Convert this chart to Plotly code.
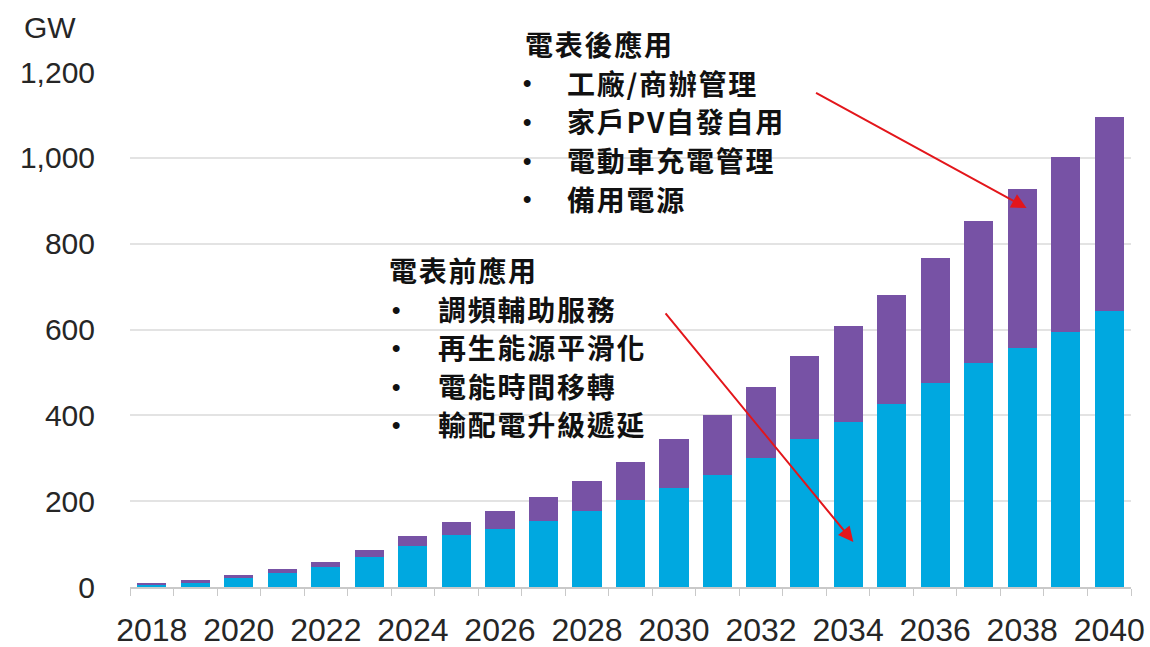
import plotly.graph_objects as go

# Energy storage capacity outlook (GW), split by application type
years = list(range(2018, 2041))
front_of_meter = [6, 10, 21, 32, 46, 69, 96, 121, 134, 154, 177, 203,
                  231, 261, 300, 344, 385, 426, 475, 523, 556, 595, 644]
behind_meter = [4, 7, 8, 9, 13, 17, 22, 30, 42, 55, 71, 88,
                114, 140, 167, 194, 224, 255, 291, 330, 371, 408, 450]

y_ticks = [0, 200, 400, 600, 800, 1000, 1200]
y_tick_text = ["0", "200", "400", "600", "800", "1,000", "1,200"]
x_ticks = list(range(2018, 2041, 2))

behind_title = "電表後應用"
behind_items = ["工廠/商辦管理", "家戶PV自發自用", "電動車充電管理", "備用電源"]
front_title = "電表前應用"
front_items = ["調頻輔助服務", "再生能源平滑化", "電能時間移轉", "輸配電升級遞延"]

CYAN = "#00A8E0"
PURPLE = "#7752A5"

W, H = 1150, 647
L, R, T, B = 129.5, 18.8, 72, 60
PW, PH = W - L - R, H - T - B


def px(xp):
    return (xp - L) / PW


def py(yp):
    return (H - B - yp) / PH


def spaced(s):
    # loosen the CJK tracking with hair spaces between glyphs
    return "\u200a".join(s)


fig = go.Figure()
fig.add_bar(x=years, y=front_of_meter, name=front_title, marker_color=CYAN,
            marker_line_width=0)
fig.add_bar(x=years, y=behind_meter, name=behind_title, marker_color=PURPLE,
            marker_line_width=0)

tick_font = dict(family="Liberation Sans, Arial, sans-serif", size=32, color="#262626")
cjk_font = dict(family="Noto Sans CJK TC, sans-serif", size=28, color="#111111")

fig.update_layout(
    width=W, height=H,
    margin=dict(l=L, r=R, t=T, b=B, pad=0, autoexpand=False),
    barmode="stack",
    bargap=0.33,
    showlegend=False,
    plot_bgcolor="white",
    paper_bgcolor="white",
    xaxis=dict(
        range=[2017.5, 2040.5],
        tickvals=x_ticks,
        ticks="",
        ticklen=0,
        tickfont=tick_font,
        ticklabelstandoff=14,
        automargin=False,
        showgrid=False,
        zeroline=False,
        showline=True,
        linecolor="#c9c9c9",
        linewidth=1.5,
        minor=dict(tick0=2017.5, dtick=1, ticks="outside", ticklen=7,
                   tickcolor="#c9c9c9", tickwidth=1.2, showgrid=False),
    ),
    yaxis=dict(
        range=[0, 1200],
        tickvals=y_ticks,
        ticktext=y_tick_text,
        tickfont=dict(family="Liberation Sans, Arial, sans-serif", size=30, color="#262626"),
        ticks="",
        ticklabelstandoff=34,
        automargin=False,
        showgrid=True,
        gridcolor="#e3e3e3",
        gridwidth=1.5,
        zeroline=False,
        showline=False,
    ),
)

ann = []
# unit label
ann.append(dict(x=px(21), y=py(27), xref="paper", yref="paper", text="GW",
                showarrow=False, xanchor="left", yanchor="middle",
                font=dict(family="Liberation Sans, Arial, sans-serif", size=30, color="#262626")))


def text_block(title, items, title_xy, bullet_x, text_x, rows):
    out = [dict(x=px(title_xy[0]), y=py(title_xy[1]), xref="paper", yref="paper",
                text="<b>" + spaced(title) + "</b>", showarrow=False, xanchor="left",
                yanchor="middle", font=cjk_font)]
    for item, ry in zip(items, rows):
        out.append(dict(x=px(bullet_x), y=py(ry), xref="paper", yref="paper",
                        text="<b>•</b>", showarrow=False, xanchor="center",
                        yanchor="middle", font=dict(family="Liberation Sans", size=24,
                                                     color="#111111")))
        out.append(dict(x=px(text_x), y=py(ry), xref="paper", yref="paper",
                        text="<b>" + spaced(item) + "</b>", showarrow=False, xanchor="left",
                        yanchor="middle", font=cjk_font))
    return out


ann += text_block(behind_title, behind_items, (523, 44), 527, 565, [83, 121, 160, 199])
ann += text_block(front_title, front_items, (387, 270), 396, 436, [309, 347, 386, 424])

# pointer arrows from each description to its bar segment
arrow_style = dict(showarrow=True, arrowhead=2, arrowsize=1.5, arrowwidth=2,
                   arrowcolor="#E3161B", text="", standoff=0)
ann.append(dict(x=2038.1, y=883, xref="x", yref="y", ax=-212, ay=-116, **arrow_style))
ann.append(dict(x=2034.12, y=105, xref="x", yref="y", ax=-189, ay=-230, **arrow_style))

fig.update_layout(annotations=ann)

fig.write_html("out.html")
